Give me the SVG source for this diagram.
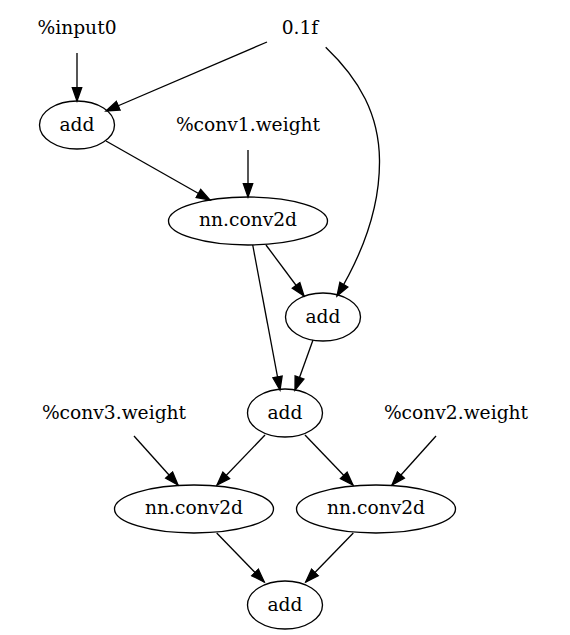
<svg xmlns="http://www.w3.org/2000/svg" width="570" height="635" viewBox="0 0 570 635">
<style>
  text { font-family: "DejaVu Serif", "Liberation Serif", serif; font-size: 18.67px; text-anchor: middle; fill: #000; }
  ellipse { fill: none; stroke: #000; stroke-width: 1.33; }
  .edge { fill: none; stroke: #000; stroke-width: 1.33; marker-end: url(#arrow); }
</style>
<defs>
  <marker id="arrow" markerUnits="userSpaceOnUse" markerWidth="16" markerHeight="12" viewBox="-1 -6 16 12" refX="13.3" refY="0" orient="auto">
    <path d="M0,-4.67 L13.3,0 L0,4.67 Z" fill="#000" stroke="#000" stroke-width="1.33"/>
  </marker>
</defs>
<rect width="570" height="635" fill="#fff"/>
<g id="edges">
  <path class="edge" d="M77,53 L77,101"/>
  <path class="edge" d="M267,42 L106,111"/>
  <path class="edge" d="M325.7,47.3 C360,80 379,115 379.5,160 C380,210 360,258 337,296"/>
  <path class="edge" d="M106,141 L210,200"/>
  <path class="edge" d="M248,150 L248,197"/>
  <path class="edge" d="M266,245 L304,296"/>
  <path class="edge" d="M252.7,245 L280,390"/>
  <path class="edge" d="M313,340 L295,390"/>
  <path class="edge" d="M265,435 L217,485"/>
  <path class="edge" d="M305,435 L353,485"/>
  <path class="edge" d="M134,436 L178,485"/>
  <path class="edge" d="M436,436 L392,485"/>
  <path class="edge" d="M216.7,533 L264.3,582"/>
  <path class="edge" d="M353.3,533 L305.7,582"/>
</g>
<g id="input0"><text x="77" y="33.5">%input0</text></g>
<g id="const01f"><text x="300" y="33.5">0.1f</text></g>
<g id="add0"><ellipse cx="77" cy="125" rx="37.5" ry="24"/><text x="77" y="130.5">add</text></g>
<g id="conv1weight"><text x="248" y="130.5">%conv1.weight</text></g>
<g id="conv2d1"><ellipse cx="248" cy="221" rx="79.5" ry="24"/><text x="248" y="226">nn.conv2d</text></g>
<g id="add1"><ellipse cx="323" cy="317" rx="37.5" ry="24"/><text x="323" y="322.5">add</text></g>
<g id="add2"><ellipse cx="285" cy="413" rx="37.5" ry="24"/><text x="285" y="418.5">add</text></g>
<g id="conv3weight"><text x="114" y="418.5">%conv3.weight</text></g>
<g id="conv2weight"><text x="456" y="418.5">%conv2.weight</text></g>
<g id="conv2d3"><ellipse cx="194" cy="509" rx="79.5" ry="24"/><text x="194" y="514">nn.conv2d</text></g>
<g id="conv2d2"><ellipse cx="376" cy="509" rx="79.5" ry="24"/><text x="376" y="514">nn.conv2d</text></g>
<g id="add3"><ellipse cx="285" cy="605" rx="37.5" ry="24"/><text x="285" y="610.5">add</text></g>
</svg>
